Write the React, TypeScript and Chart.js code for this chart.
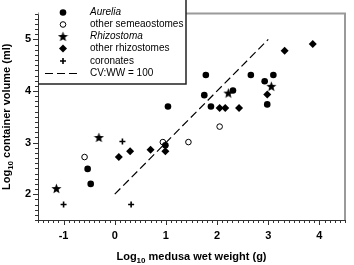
import React, { useEffect, useRef } from 'react';
import { Chart, registerables } from 'chart.js';

Chart.register(...registerables);

// ---- data (log10 medusa wet weight, log10 container volume) ----
const aureliaX = [-0.53, -0.47, 0.99, 1.04, 1.75, 1.78, 1.88, 2.31, 2.66, 2.93, 2.98, 3.10];
const aureliaY = [2.49, 2.20, 2.95, 3.70, 3.92, 4.31, 3.70, 4.01, 4.31, 4.19, 3.74, 4.31];
const semeaX = [-0.59, 0.94, 1.44, 2.05];
const semeaY = [2.72, 3.01, 3.01, 3.31];
const rhizostomaX = [-1.14, -0.31, 2.22, 3.06];
const rhizostomaY = [2.11, 3.10, 3.96, 4.09];
const otherRhizX = [0.08, 0.30, 0.70, 0.99, 2.05, 2.16, 2.43, 2.98, 3.32, 3.87];
const otherRhizY = [2.72, 2.83, 2.86, 2.83, 3.67, 3.67, 3.67, 3.93, 4.78, 4.91];
const coronatesX = [-1.0, 0.15, 0.32];
const coronatesY = [1.80, 3.02, 1.80];
const cvLineX = [0, 3];
const cvLineY = [2, 5];

const legendLabels = ['Aurelia', 'other semeaostomes', 'Rhizostoma', 'other rhizostomes', 'coronates', 'CV:WW = 100'];
const legendItalic = [true, false, true, false, false, false];

const xTitleParts = ['Log', '10', ' medusa wet weight (g)'];
const yTitleParts = ['Log', '10', ' container volume (ml)'];

const FONT = '"Liberation Sans", Arial, sans-serif';

const pts = (xs: number[], ys: number[]) => xs.map((x, i) => ({ x, y: ys[i] }));

function makeStar(size: number) {
  const c = document.createElement('canvas');
  c.width = size;
  c.height = size;
  const g = c.getContext('2d')!;
  const cx = size / 2, cy = size / 2 + 0.4, R = size / 2 - 0.2, r = R * 0.42;
  g.beginPath();
  for (let i = 0; i < 10; i++) {
    const ang = -Math.PI / 2 + (i * Math.PI) / 5;
    const rad = i % 2 === 0 ? R : r;
    const x = cx + rad * Math.cos(ang), y = cy + rad * Math.sin(ang);
    if (i === 0) g.moveTo(x, y); else g.lineTo(x, y);
  }
  g.closePath();
  g.fillStyle = '#000';
  g.fill();
  return c;
}

function drawParts(ctx: CanvasRenderingContext2D, parts: string[], cx: number, baseY: number, size: number, subSize: number) {
  const main = `bold ${size}px ${FONT}`;
  const sub = `bold ${subSize}px ${FONT}`;
  const widths = parts.map((p, i) => {
    ctx.font = i === 1 ? sub : main;
    return ctx.measureText(p).width;
  });
  const total = widths.reduce((a, b) => a + b, 0);
  let x = cx - total / 2;
  ctx.textBaseline = 'alphabetic';
  ctx.textAlign = 'left';
  parts.forEach((p, i) => {
    ctx.font = i === 1 ? sub : main;
    ctx.fillText(p, x, i === 1 ? baseY + 3 : baseY);
    x += widths[i];
  });
}

export default function App() {
  const ref = useRef<HTMLCanvasElement>(null);

  useEffect(() => {
    document.body.style.margin = '0';
    const star = makeStar(11);
    const legendStar = makeStar(11);

    const isMajor = (v: number) => Math.abs(v - Math.round(v)) < 1e-6;

    const framePlugin = {
      id: 'frame',
      afterDraw(chart: any) {
        const { ctx, chartArea: a, scales } = chart;
        ctx.save();
        // tick marks (minor every 0.1, major on integers)
        ctx.strokeStyle = '#333';
        ctx.lineWidth = 1;
        const xs = scales.x, ys = scales.y;
        xs.ticks.forEach((t: any) => {
          const px = Math.round(xs.getPixelForValue(t.value)) + 0.5;
          const len = isMajor(t.value) ? 5 : 3;
          ctx.beginPath();
          ctx.moveTo(px, a.bottom);
          ctx.lineTo(px, a.bottom + len);
          ctx.stroke();
        });
        ys.ticks.forEach((t: any) => {
          const py = Math.round(ys.getPixelForValue(t.value)) + 0.5;
          const len = isMajor(t.value) ? 5 : 3;
          ctx.beginPath();
          ctx.moveTo(a.left, py);
          ctx.lineTo(a.left - len, py);
          ctx.stroke();
        });
        // top & right frame (grey)
        ctx.strokeStyle = '#9a9a9a';
        ctx.lineWidth = 2;
        ctx.beginPath();
        ctx.moveTo(a.left, a.top);
        ctx.lineTo(a.right, a.top);
        ctx.lineTo(a.right, a.bottom);
        ctx.stroke();

        // legend box
        const bx0 = a.left + 1, bx1 = 186, by1 = 84;
        ctx.fillStyle = '#fff';
        ctx.fillRect(bx0, 0, bx1 - bx0, by1);
        ctx.strokeStyle = '#222';
        ctx.lineWidth = 1.5;
        ctx.beginPath();
        ctx.moveTo(a.left, by1);
        ctx.lineTo(bx1, by1);
        ctx.lineTo(bx1, 0);
        ctx.stroke();

        const rowY = [12.5, 24.5, 36.5, 48.5, 61, 73.5];
        const sx = 63;
        ctx.fillStyle = '#000';
        ctx.strokeStyle = '#000';
        // Aurelia
        ctx.beginPath(); ctx.arc(sx, rowY[0], 3.3, 0, Math.PI * 2); ctx.fill();
        // other semeaostomes
        ctx.lineWidth = 1;
        ctx.beginPath(); ctx.arc(sx, rowY[1], 2.8, 0, Math.PI * 2); ctx.stroke();
        // Rhizostoma
        ctx.drawImage(legendStar, sx - 5.5, rowY[2] - 5.5);
        // other rhizostomes
        ctx.beginPath();
        ctx.moveTo(sx, rowY[3] - 4); ctx.lineTo(sx + 4, rowY[3]); ctx.lineTo(sx, rowY[3] + 4); ctx.lineTo(sx - 4, rowY[3]);
        ctx.closePath(); ctx.fill();
        // coronates
        ctx.lineWidth = 1.6;
        ctx.beginPath();
        ctx.moveTo(sx - 3, rowY[4]); ctx.lineTo(sx + 3, rowY[4]);
        ctx.moveTo(sx, rowY[4] - 3); ctx.lineTo(sx, rowY[4] + 3);
        ctx.stroke();
        // CV:WW line
        ctx.lineWidth = 1.2;
        ctx.setLineDash([8, 4]);
        ctx.beginPath(); ctx.moveTo(45, rowY[5]); ctx.lineTo(78, rowY[5]); ctx.stroke();
        ctx.setLineDash([]);

        ctx.textBaseline = 'middle';
        ctx.textAlign = 'left';
        legendLabels.forEach((lab, i) => {
          ctx.font = `${legendItalic[i] ? 'italic ' : ''}10px ${FONT}`;
          ctx.fillText(lab, 90, rowY[i]);
        });

        // axis titles
        ctx.fillStyle = '#000';
        drawParts(ctx, xTitleParts, (a.left + a.right) / 2, 260, 11, 8);
        ctx.save();
        ctx.translate(10, (a.top + a.bottom) / 2);
        ctx.rotate(-Math.PI / 2);
        drawParts(ctx, yTitleParts, 0, 0, 11, 8);
        ctx.restore();

        ctx.restore();
      },
    };

    const tickFont = { family: FONT, size: 11, weight: 'bold' as const };
    const labelCb = (v: any) => (isMajor(Number(v)) ? String(Math.round(Number(v))) : '');

    const chart = new Chart(ref.current!, {
      type: 'scatter',
      data: {
        datasets: [
          {
            type: 'line',
            label: legendLabels[5],
            data: pts(cvLineX, cvLineY),
            borderColor: '#000',
            borderWidth: 1.2,
            borderDash: [8, 4],
            pointRadius: 0,
            fill: false,
          } as any,
          {
            label: legendLabels[0],
            data: pts(aureliaX, aureliaY),
            pointStyle: 'circle',
            pointRadius: 3.3,
            backgroundColor: '#000',
            borderColor: '#000',
            borderWidth: 0,
          },
          {
            label: legendLabels[1],
            data: pts(semeaX, semeaY),
            pointStyle: 'circle',
            pointRadius: 2.8,
            backgroundColor: '#fff',
            borderColor: '#000',
            borderWidth: 1,
          },
          {
            label: legendLabels[2],
            data: pts(rhizostomaX, rhizostomaY),
            pointStyle: star as any,
            pointRadius: 5,
          },
          {
            label: legendLabels[3],
            data: pts(otherRhizX, otherRhizY),
            pointStyle: 'rectRot',
            pointRadius: 4,
            backgroundColor: '#000',
            borderColor: '#000',
            borderWidth: 0,
          },
          {
            label: legendLabels[4],
            data: pts(coronatesX, coronatesY),
            pointStyle: 'cross',
            pointRadius: 3,
            borderColor: '#000',
            borderWidth: 1.6,
          },
        ],
      },
      options: {
        responsive: false,
        animation: false,
        devicePixelRatio: 1,
        layout: { padding: { left: 0, right: 1, top: 1, bottom: 0 } },
        plugins: {
          legend: { display: false },
          tooltip: { enabled: false },
          title: { display: false },
        },
        scales: {
          x: {
            type: 'linear',
            min: -1.5,
            max: 4.5,
            afterFit: (s: any) => { s.height = 45; },
            ticks: { stepSize: 0.1, autoSkip: false, maxRotation: 0, minRotation: 0, padding: 9, color: '#000', font: tickFont, callback: labelCb },
            grid: { display: true, drawOnChartArea: false, drawTicks: false },
            border: { display: true, color: '#333', width: 1 },
          },
          y: {
            type: 'linear',
            min: 1.5,
            max: 5.5,
            afterFit: (s: any) => { s.width = 38; },
            ticks: { stepSize: 0.1, autoSkip: false, padding: 7, color: '#000', font: tickFont, callback: labelCb },
            grid: { display: true, drawOnChartArea: false, drawTicks: false },
            border: { display: true, color: '#333', width: 1 },
          },
        },
      },
      plugins: [framePlugin],
    });
    return () => chart.destroy();
  }, []);

  return (
    <div style={{ position: 'absolute', left: 0, top: 0, width: 354, height: 265 }}>
      <canvas ref={ref} width={354} height={265} style={{ display: 'block', width: 354, height: 265 }} />
    </div>
  );
}
